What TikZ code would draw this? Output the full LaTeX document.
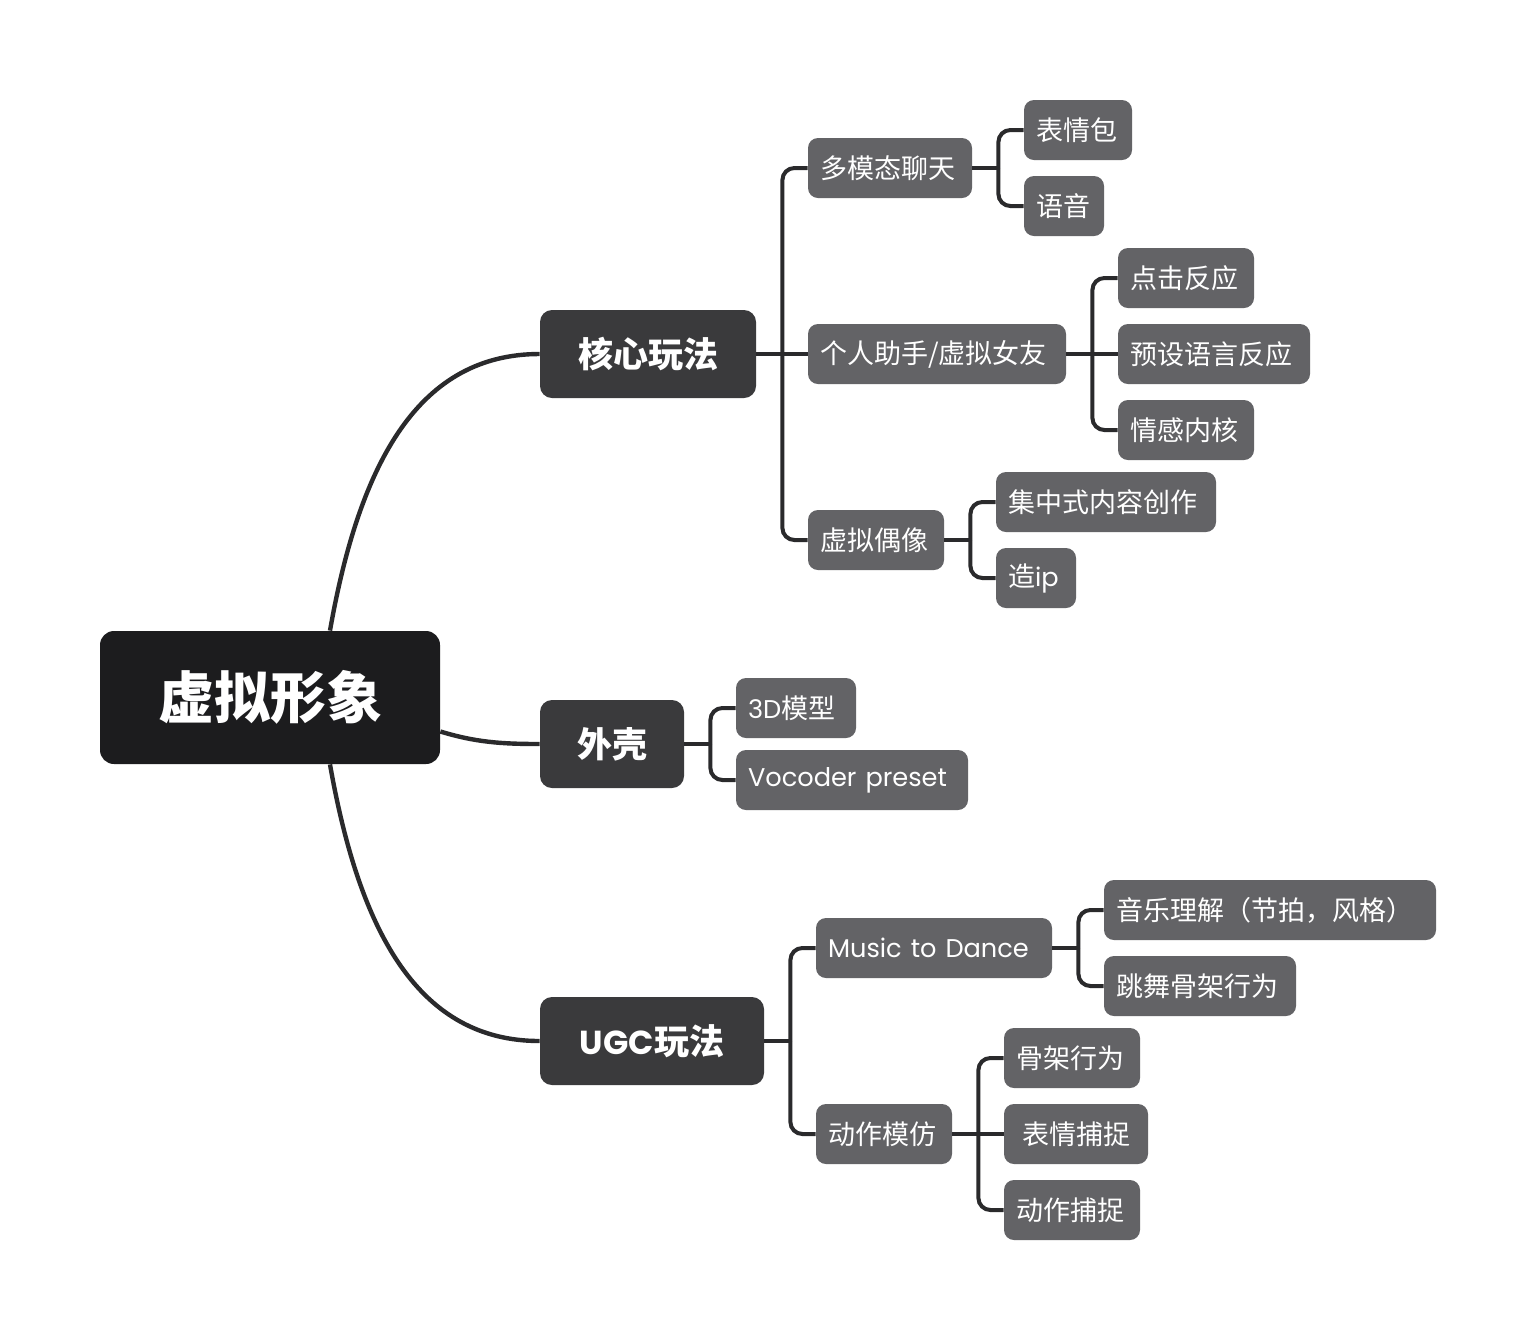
\documentclass[tikz,border=0pt]{standalone}
\usepackage{fontspec}
\setmainfont{Noto Sans CJK SC}
\newfontfamily\latfont[Scale=0.95]{Poppins}
\newcommand\en[1]{\mbox{\latfont #1}}
\definecolor{rootc}{HTML}{1C1C1E}
\definecolor{onec}{HTML}{3A3A3C}
\definecolor{twoc}{HTML}{636366}
\definecolor{linec}{HTML}{2A2A2C}
\begin{document}
\begin{tikzpicture}[x=0.5pt,y=-0.5pt,
  rootbox/.style={fill=rootc, rounded corners=7pt, text=white, inner sep=0pt,
    font=\fontsize{28}{31}\selectfont\bfseries, minimum width=170pt, minimum height=66.5pt},
  lvone/.style={fill=onec, rounded corners=6pt, text=white, inner sep=0pt,
    font=\fontsize{17.5}{20}\selectfont\bfseries, minimum height=44pt},
  lvtwo/.style={fill=twoc, rounded corners=5pt, text=white, inner xsep=6pt, inner ysep=0pt,
    align=left, font=\fontsize{13.5}{16}\selectfont, minimum height=30pt},
  conn/.style={draw=linec, line width=2pt},
  rootconn/.style={draw=linec, line width=2.2pt},
  elbow/.style={conn, rounded corners=6pt}]
\fill[white] (0,0) rectangle (1536,1340);
\useasboundingbox (0,0) rectangle (1536,1340);

% root
\node[rootbox] (root) at (270,697.5) {虚拟形象};

% level 1
\node[lvone, minimum width=108pt] (k1) at (648,354) {核心玩法};
\node[lvone, minimum width=72pt] (k2) at (612,744) {外壳};
\node[lvone, minimum width=112pt] (k3) at (652,1041) {\en{UGC}玩法};

% level 2
\node[lvtwo, text width=70pt] (a1) at (890,168) {多模态聊天};
\node[lvtwo, text width=117pt] (a2) at (937,354) {个人助手/虚拟女友};
\node[lvtwo, text width=56pt] (a3) at (876,540) {虚拟偶像};
\node[lvtwo, text width=48pt] (b1) at (796,708) {\en{3D}模型};
\node[lvtwo, text width=104pt] (b2) at (852,780) {\en{Vocoder preset}};
\node[lvtwo, text width=106pt] (c1) at (934,948) {\en{Music to Dance}};
\node[lvtwo, text width=56pt] (c2) at (884,1134) {动作模仿};

% level 3
\node[lvtwo, text width=42pt] (a11) at (1078,130) {表情包};
\node[lvtwo, text width=28pt] (a12) at (1064,206) {语音};
\node[lvtwo, text width=56pt] (a21) at (1186,278) {点击反应};
\node[lvtwo, text width=84pt] (a22) at (1214,354) {预设语言反应};
\node[lvtwo, text width=56pt] (a23) at (1186,430) {情感内核};
\node[lvtwo, text width=98pt] (a31) at (1106,502) {集中式内容创作};
\node[lvtwo, text width=28pt] (a32) at (1036,578) {造\en{ip}};
\node[lvtwo, text width=154pt] (c11) at (1270,910) {音乐理解（节拍，风格）};
\node[lvtwo, text width=84pt] (c12) at (1200,986) {跳舞骨架行为};
\node[lvtwo, text width=56pt] (c21) at (1072,1058) {骨架行为};
\node[lvtwo, text width=60pt] (c22) at (1076,1134) {\hspace{3pt}表情捕捉};
\node[lvtwo, text width=56pt] (c23) at (1072,1210) {动作捕捉};

% root connectors
\draw[rootconn] ([xshift=30pt]root.north) .. controls (360,460) and (420,354) .. (k1.west);
\draw[rootconn] ([yshift=-17pt]root.east) .. controls (475,742) and (500,744) .. (k2.west);
\draw[rootconn] ([xshift=30pt]root.south) .. controls (360,935) and (420,1041) .. (k3.west);

% core
\draw[conn] (k1.east) -- ++(26,0) coordinate (t1);
\draw[elbow] (t1) |- (a1.west);
\draw[conn] (t1) -- (a2.west);
\draw[elbow] (t1) |- (a3.west);

\draw[conn] (a1.east) -- ++(26,0) coordinate (t11);
\draw[elbow] (t11) |- (a11.west);
\draw[elbow] (t11) |- (a12.west);

\draw[conn] (a2.east) -- ++(26,0) coordinate (t12);
\draw[elbow] (t12) |- (a21.west);
\draw[conn] (t12) -- (a22.west);
\draw[elbow] (t12) |- (a23.west);

\draw[conn] (a3.east) -- ++(26,0) coordinate (t13);
\draw[elbow] (t13) |- (a31.west);
\draw[elbow] (t13) |- (a32.west);

% shell
\draw[conn] (k2.east) -- ++(26,0) coordinate (t2);
\draw[elbow] (t2) |- (b1.west);
\draw[elbow] (t2) |- (b2.west);

% UGC
\draw[conn] (k3.east) -- ++(26,0) coordinate (t3);
\draw[elbow] (t3) |- (c1.west);
\draw[elbow] (t3) |- (c2.west);

\draw[conn] (c1.east) -- ++(26,0) coordinate (t31);
\draw[elbow] (t31) |- (c11.west);
\draw[elbow] (t31) |- (c12.west);

\draw[conn] (c2.east) -- ++(26,0) coordinate (t32);
\draw[elbow] (t32) |- (c21.west);
\draw[conn] (t32) -- (c22.west);
\draw[elbow] (t32) |- (c23.west);
\end{tikzpicture}
\end{document}
